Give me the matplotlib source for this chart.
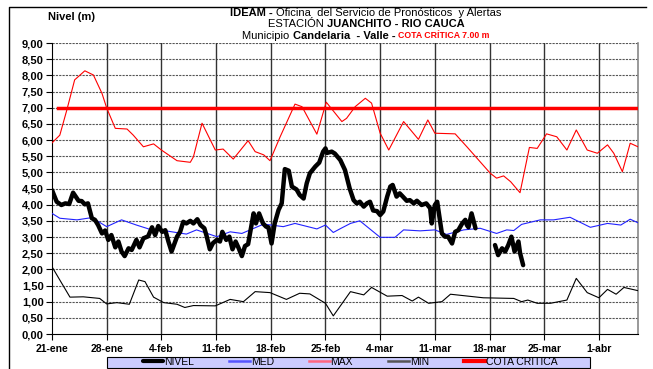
import numpy as np
import matplotlib
matplotlib.use("Agg")
import matplotlib.pyplot as plt
from matplotlib.lines import Line2D
from matplotlib.patches import Rectangle

plt.rcParams['font.family'] = ['Liberation Sans', 'DejaVu Sans']

# etiquetas del eje x (cada 7 dias desde 21-ene)
fechas = ['21-ene', '28-ene', '4-feb', '11-feb', '18-feb', '25-feb',
          '4-mar', '11-mar', '18-mar', '25-mar', '1-abr']
dias_tick = [0, 7, 14, 21, 28, 35, 42, 49, 56, 63, 70]

# NIVEL (lecturas horarias aproximadas)
nivel_dias = [0, 0.6, 1.2, 1.7, 2.2, 2.7, 3.4, 3.8, 4.2, 4.6, 5.1, 5.5, 5.9, 6.4, 6.8,
              7.2, 7.6, 8.1, 8.5, 8.9, 9.3, 9.8, 10.2, 10.8, 11.2, 11.7, 12.3, 12.8,
              13.2, 13.6, 14.1, 14.5, 14.9, 15.3, 16, 16.4, 16.8, 17.2, 17.7, 18.1,
              18.6, 19, 19.5, 19.8, 20.2, 20.6, 21.1, 21.5, 21.8, 22.3, 22.7, 23.1,
              23.5, 23.9, 24.3, 24.7, 25.1, 25.8, 26.1, 26.5, 27, 27.4, 27.7, 28.1,
              28.5, 29, 29.4, 29.8, 30.3, 30.7, 31.3, 31.7, 32.2, 32.6, 33, 33.7,
              34.2, 34.7, 35, 35.2, 35.8, 36.2, 36.9, 37.5, 38.1, 38.6, 39, 39.4,
              39.9, 40.3, 40.7, 41.1, 41.6, 42, 42.4, 42.9, 43.3, 43.6, 44.1, 44.5,
              44.9, 45.4, 45.8, 46.3, 46.7, 47.3, 47.9, 48.4, 48.6, 49, 49.3, 49.6,
              49.9, 50.3, 50.7, 51.2, 51.6, 52, 52.5, 52.9, 53.1, 53.3, 53.7, 54.2,
              55.5, 56.7, 57.1, 57.6, 58, 58.4, 58.8, 59.2, 59.7, 59.9, 60.3]
nivel = [4.45, 4.09, 3.99, 4.04, 4.02, 4.37, 4.12, 4.11, 4.01, 4.04, 3.58, 3.53, 3.37,
         3.11, 3.20, 2.91, 3.06, 2.68, 2.86, 2.55, 2.41, 2.65, 2.60, 2.91, 2.68, 2.96,
         3.02, 3.30, 3.06, 3.34, 3.16, 3.21, 2.86, 2.55, 3.01, 3.16, 3.47, 3.42, 3.50,
         3.42, 3.55, 3.37, 3.27, 3.02, 2.62, 2.81, 2.91, 2.86, 3.16, 2.91, 3.01, 2.62,
         2.86, 2.65, 2.41, 2.72, 2.78, 3.73, 3.42, 3.73, 3.42, 3.32, 3.30, 2.80, 3.42,
         3.84, 4.04, 5.10, 5.05, 4.56, 4.47, 4.30, 4.19, 4.66, 4.97, 5.18, 5.30, 5.64,
         5.74, 5.60, 5.64, 5.58, 5.38, 5.07, 4.50, 4.14, 4.04, 4.09, 3.94, 4.04, 4.09,
         3.82, 3.80, 3.68, 3.79, 4.25, 4.56, 4.61, 4.25, 4.35, 4.25, 4.12, 4.14, 4.04,
         4.12, 3.99, 4.04, 3.89, 3.42, 3.99, 4.09, 3.60, 3.11, 3.01, 3.01, 2.80, 3.16,
         3.21, 3.42, 3.53, 3.37, 3.30, 3.73, 3.27,
         np.nan, 2.75, 2.44, 2.65, 2.55, 2.75, 3.01, 2.55, 2.86, 2.51, 2.13]

# MED
med_dias = [0, 1, 3.2, 5.1, 7, 8.9, 10.8, 12.5, 14.3, 17.2, 18.5, 21.1, 22.8, 24.3,
            27.1, 29.6, 31.1, 33.9, 35, 36, 37, 38.2, 39.4, 42, 43.9, 45, 47.1, 49,
            50.5, 52.7, 54.8, 56.9, 58.2, 59.1, 60.1, 62.5, 64.2, 66.3, 68.9, 71.1,
            72.8, 74, 75]
med = [3.73, 3.58, 3.53, 3.60, 3.32, 3.53, 3.37, 3.24, 3.20, 3.09, 3.22, 3.01, 3.16,
       3.11, 3.40, 3.32, 3.42, 3.25, 3.37, 3.14, 3.27, 3.42, 3.50, 2.99, 2.99, 3.22,
       3.19, 3.22, 3.08, 3.22, 3.27, 3.11, 3.22, 3.20, 3.39, 3.53, 3.53, 3.61, 3.30,
       3.42, 3.37, 3.55, 3.44]

# MAX
max_dias = [0, 1, 1.9, 2.9, 4.2, 5.3, 6.4, 7, 8.1, 9.6, 10.4, 11.7, 13, 14, 16, 17.7,
            18.1, 19.2, 20.9, 21.9, 23.2, 25.1, 26, 27.1, 27.9, 29.2, 31.1, 32, 33.9,
            35.1, 37.1, 37.7, 38.8, 40.1, 40.9, 42, 43.1, 45, 46.9, 48.1, 49, 51.6,
            53.1, 56.1, 56.9, 57.8, 58.7, 59.9, 61.1, 62.1, 63.3, 64.6, 65.9, 67.1,
            68.5, 69.8, 71.1, 71.9, 73, 74, 75]
maxi = [5.91, 6.15, 6.93, 7.86, 8.14, 8.01, 7.44, 6.99, 6.36, 6.34, 6.15, 5.79, 5.88,
        5.69, 5.36, 5.31, 5.48, 6.52, 5.69, 5.72, 5.41, 5.98, 5.64, 5.54, 5.36, 6.10,
        7.11, 7.03, 6.18, 7.17, 6.57, 6.67, 7.03, 7.29, 7.14, 6.21, 5.69, 6.57, 6.02,
        6.62, 6.21, 6.19, 5.79, 4.97, 4.82, 4.89, 4.71, 4.37, 5.77, 5.74, 6.19, 6.10,
        5.69, 6.31, 5.69, 5.59, 5.85, 5.59, 5.02, 5.90, 5.79]

# MIN
min_dias = [0, 1, 2.3, 4, 6.1, 7, 8.3, 9.9, 11.1, 11.9, 13, 14.3, 16, 17, 18.1, 20.9,
            22.8, 24.5, 26, 27.9, 30, 31.7, 33, 35, 36, 38.2, 39.9, 40.9, 42.9, 44.8,
            46.1, 46.9, 48.2, 49.9, 51, 55.2, 59.1, 60.1, 60.9, 62.1, 63.8, 65.9, 67.1,
            68.5, 70, 71.1, 72.2, 73.2, 75]
mini = [2.08, 1.67, 1.14, 1.15, 1.10, 0.93, 0.97, 0.92, 1.67, 1.62, 1.14, 0.97, 0.92,
        0.82, 0.88, 0.87, 1.07, 1.00, 1.31, 1.28, 1.07, 1.26, 1.24, 0.95, 0.56, 1.31,
        1.21, 1.44, 1.17, 1.19, 1.02, 1.14, 0.95, 1.00, 1.23, 1.12, 1.10, 1.00, 1.05,
        0.95, 0.95, 1.05, 1.72, 1.28, 1.12, 1.38, 1.23, 1.44, 1.34]

# COTA CRITICA
cota_dias = [0.8, 75]
cota = [7.0, 7.0]

fig = plt.figure(figsize=(6.53, 3.69), dpi=100)
ax = fig.add_axes([52/653, 1-334/369, (638-52)/653, (334-43)/369])

ax.plot(nivel_dias, nivel, color='black', lw=3.2, solid_joinstyle='round',
        solid_capstyle='round', label='NIVEL', zorder=5)
ax.plot(med_dias, med, color='#2222FF', lw=0.8, label='MED', zorder=4)
ax.plot(max_dias, maxi, color='#FF0000', lw=0.8, label='MAX', zorder=4)
ax.plot(min_dias, mini, color='black', lw=0.8, label='MIN', zorder=4)
ax.plot(cota_dias, cota, color='#FF0000', lw=2.5, label='COTA CRITICA', zorder=4)

ax.set_xlim(0, 75)
ax.set_ylim(0, 9)
ax.set_yticks(np.arange(0, 9.01, 0.5))
ax.set_yticklabels([('%.2f' % v).replace('.', ',') for v in np.arange(0, 9.01, 0.5)])
ax.set_xticks(dias_tick)
ax.set_xticklabels(fechas)
ax.tick_params(axis='both', length=4, width=0.8, pad=2)
ax.tick_params(axis='x', labelsize=7.5, pad=3)
ax.tick_params(axis='y', labelsize=8)
for t in ax.get_xticklabels() + ax.get_yticklabels():
    t.set_fontweight('bold')

# rejilla
for v in np.arange(0.5, 9.01, 0.5):
    ax.axhline(v, color='#555555', lw=0.8, ls=(0, (2, 1)), zorder=1)
for d in dias_tick[1:]:
    ax.axvline(d, color='#333333', lw=1.0, zorder=1)

ax.spines['top'].set_visible(False)
ax.spines['right'].set_color('#888888')
ax.spines['right'].set_linewidth(1.2)
ax.spines['left'].set_linewidth(0.8)
ax.spines['bottom'].set_linewidth(0.8)

# titulo con estilos mezclados
def linea(y, partes, xc=366/653):
    r = fig.canvas.get_renderer()
    objs = []
    for txt, w, col, sz in partes:
        objs.append(fig.text(0, y, txt, fontsize=sz, fontweight=w, color=col,
                             va='center', ha='left'))
    anchos = [o.get_window_extent(r).width / fig.bbox.width for o in objs]
    x = xc - sum(anchos) / 2
    for o, a in zip(objs, anchos):
        o.set_x(x)
        x += a

linea(1-13/369, [('IDEAM - ', 'bold', 'black', 8),
                 ('Oficina  del Servicio de Pronósticos  y Alertas', 'normal', 'black', 8)])
linea(1-24/369, [('ESTACIÓN ', 'normal', 'black', 8),
                 ('JUANCHITO - RIO CAUCA', 'bold', 'black', 8)])
linea(1-36/369, [('Municipio ', 'normal', 'black', 8),
                 ('Candelaria  - Valle - ', 'bold', 'black', 8),
                 ('COTA CRÍTICA 7.00 m', 'bold', '#FF0000', 6.3)])

fig.text(48/653, 1-17/369, 'Nivel (m)', fontsize=8, fontweight='bold', va='center')

# marco exterior
fig.add_artist(Line2D([9/653, 9/653, 646/653], [0, 1-7/369, 1-7/369],
                      color='black', lw=1.0, transform=fig.transFigure))

# leyenda: caja lila y entradas encima
fig.add_artist(Rectangle((107/653, 1-368/369), 483/653, 11.5/369, transform=fig.transFigure,
                         facecolor='#CCCCFF', edgecolor='black', lw=0.8, zorder=2))
leg = fig.legend(loc='center', bbox_to_anchor=(350/653, 1-362/369), ncol=5,
                 fontsize=7.5, handlelength=2.0, handletextpad=0.05, columnspacing=3.4,
                 frameon=False, borderpad=0)
leg.set_zorder(3)
# en la leyenda las muestras se ven mas gruesas
for h, c, w in zip(leg.legend_handles,
                   ['black', '#5555FF', '#FF6680', '#555555', '#FF0000'],
                   [3, 1.8, 1.8, 1.8, 3]):
    h.set_color(c)
    h.set_linewidth(w)

fig.savefig('out.png', dpi=100)
